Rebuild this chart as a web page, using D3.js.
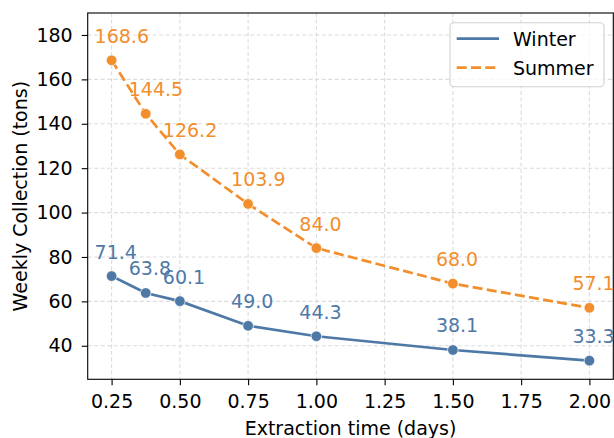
<!DOCTYPE html>
<html>
<head>
<meta charset="utf-8">
<script src="https://cdn.jsdelivr.net/npm/d3@7"></script>
<style>
    html, body { margin: 0; padding: 0; background: #fff; }
    svg { display: block; font-family: "DejaVu Sans", sans-serif; }
</style>
</head>
<body>
<div id="chart"></div>
<script>
/*
 * Chart data.
 */
var extractionDays = [0.25, 0.375, 0.5, 0.75, 1.0, 1.5, 2.0];
var winterValues   = [71.4, 63.8, 60.1, 49.0, 44.3, 38.1, 33.3];
var summerValues   = [168.6, 144.5, 126.2, 103.9, 84.0, 68.0, 57.1];
var xTickValues    = [0.25, 0.5, 0.75, 1.0, 1.25, 1.5, 1.75, 2.0];
var yTickValues    = [40, 60, 80, 100, 120, 140, 160, 180];
var seriesNames    = ['Winter', 'Summer'];

var series = [
    { name: seriesNames[0], values: winterValues, color: '#4E79A7', dash: null },
    { name: seriesNames[1], values: summerValues, color: '#F28E2B', dash: '10,4.3' }
];

var width  = 614;
var height = 438;
var plot   = { left: 87.7, right: 613.3, top: 13, bottom: 379.3 };
var fontSize = 19;

var svg = d3.select('#chart').append('svg')
    .attr('width', width)
    .attr('height', height);

/*
 * Scales.
 */
var xScale = d3.scaleLinear()
    .domain([0.1625, 2.0875])
    .range([plot.left, plot.right]);

var yScale = d3.scaleLinear()
    .domain([24.9, 189.9])
    .range([plot.bottom, plot.top]);

/*
 * Grid.
 */
var grid = svg.append('g').attr('class', 'grid');

grid.selectAll('line.gx')
    .data(xTickValues)
    .enter().append('line')
    .attr('class', 'gx')
    .attr('x1', d => xScale(d)).attr('x2', d => xScale(d))
    .attr('y1', plot.top).attr('y2', plot.bottom)
    .attr('stroke', '#dcdcdc')
    .attr('stroke-width', 1.1)
    .attr('stroke-dasharray', '4,2.5');

grid.selectAll('line.gy')
    .data(yTickValues)
    .enter().append('line')
    .attr('class', 'gy')
    .attr('x1', plot.left).attr('x2', plot.right)
    .attr('y1', d => yScale(d)).attr('y2', d => yScale(d))
    .attr('stroke', '#dcdcdc')
    .attr('stroke-width', 1.1)
    .attr('stroke-dasharray', '4,2.5');

/*
 * Axes.
 */
var xAxis = svg.append('g')
    .attr('transform', 'translate(0,' + plot.bottom + ')')
    .call(d3.axisBottom(xScale)
        .tickValues(xTickValues)
        .tickFormat(d3.format('.2f'))
        .tickSize(6)
        .tickPadding(9)
        .tickSizeOuter(0));

var yAxis = svg.append('g')
    .attr('transform', 'translate(' + plot.left + ',0)')
    .call(d3.axisLeft(yScale)
        .tickValues(yTickValues)
        .tickSize(6)
        .tickPadding(9)
        .tickSizeOuter(0));

[xAxis, yAxis].forEach(function(axis) {
    axis.select('.domain').remove();
    axis.selectAll('.tick line').attr('stroke', '#000').attr('stroke-width', 1.1);
    axis.selectAll('.tick text')
        .attr('fill', '#000')
        .style('font-family', '"DejaVu Sans", sans-serif')
        .style('font-size', fontSize + 'px');
});

/*
 * Frame.
 */
svg.append('rect')
    .attr('x', plot.left)
    .attr('y', plot.top)
    .attr('width', plot.right - plot.left)
    .attr('height', plot.bottom - plot.top)
    .attr('fill', 'none')
    .attr('stroke', '#000')
    .attr('stroke-width', 1.1);

/*
 * Axis titles.
 */
svg.append('text')
    .attr('x', (plot.left + plot.right) / 2)
    .attr('y', 434.5)
    .attr('text-anchor', 'middle')
    .style('font-size', fontSize + 'px')
    .text('Extraction time (days)');

svg.append('text')
    .attr('transform', 'translate(26.5,' + (plot.top + plot.bottom) / 2 + ') rotate(-90)')
    .attr('text-anchor', 'middle')
    .style('font-size', fontSize + 'px')
    .text('Weekly Collection (tons)');

/*
 * Series lines, markers and value labels.
 */
var line = d3.line()
    .x((d, i) => xScale(extractionDays[i]))
    .y(d => yScale(d));

series.forEach(function(s) {
    var g = svg.append('g');

    g.append('path')
        .attr('d', line(s.values))
        .attr('fill', 'none')
        .attr('stroke', s.color)
        .attr('stroke-width', 2.7)
        .attr('stroke-dasharray', s.dash);

    g.selectAll('circle')
        .data(s.values)
        .enter().append('circle')
        .attr('cx', (d, i) => xScale(extractionDays[i]))
        .attr('cy', d => yScale(d))
        .attr('r', 5.3)
        .attr('fill', s.color)
        .attr('stroke', '#fff')
        .attr('stroke-width', 0.7);

    g.selectAll('text')
        .data(s.values)
        .enter().append('text')
        .attr('x', (d, i) => xScale(extractionDays[i]) - 17)
        .attr('y', d => yScale(d) - 17.5)
        .attr('fill', s.color)
        .style('font-size', fontSize + 'px')
        .text(d => d.toFixed(1));
});

/*
 * Legend.
 */
var legend = svg.append('g');

legend.append('rect')
    .attr('x', 450)
    .attr('y', 22.7)
    .attr('width', 154)
    .attr('height', 64)
    .attr('rx', 4)
    .attr('fill', 'rgba(255,255,255,0.8)')
    .attr('stroke', '#d0d0d0')
    .attr('stroke-width', 1.1);

series.forEach(function(s, i) {
    var y = 38.7 + i * 29;
    legend.append('line')
        .attr('x1', 456.7).attr('x2', 499)
        .attr('y1', y).attr('y2', y)
        .attr('stroke', s.color)
        .attr('stroke-width', 2.7)
        .attr('stroke-dasharray', s.dash);
    legend.append('text')
        .attr('x', 513)
        .attr('y', y + 7)
        .style('font-size', fontSize + 'px')
        .text(s.name);
});
</script>
</body>
</html>
